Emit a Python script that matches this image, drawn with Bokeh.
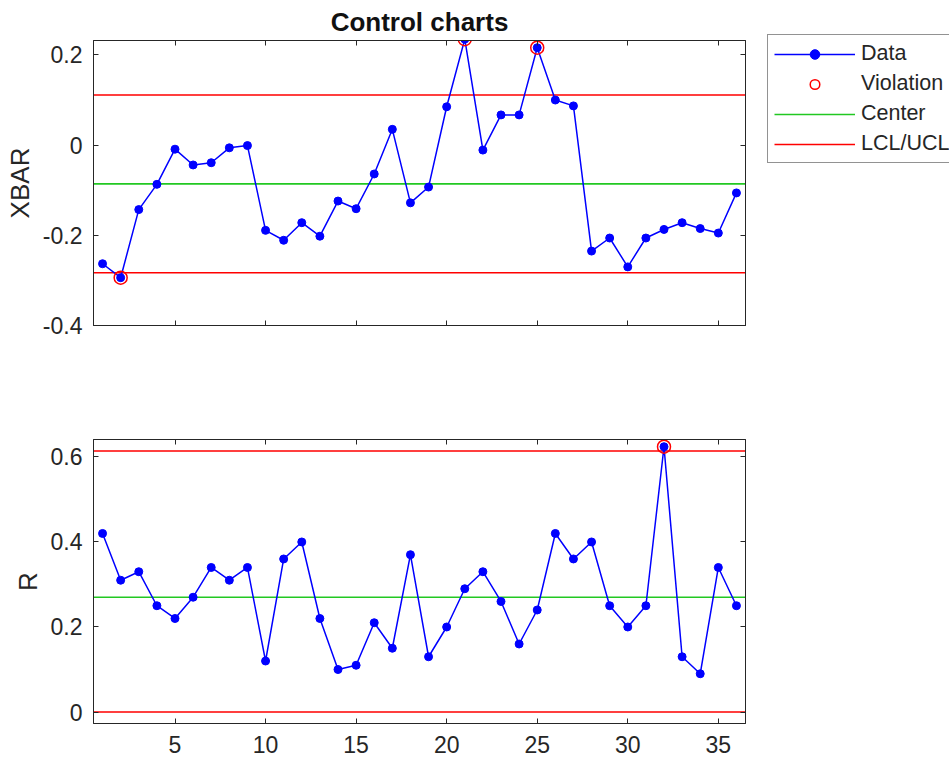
from bokeh.plotting import figure
from bokeh.models import Range1d, LinearAxis, FixedTicker, Legend, LegendItem
from bokeh.layouts import column, row
from bokeh.embed import file_html
from bokeh.resources import INLINE

# ---- data ----
sample = list(range(1, 37))
xbar = [-0.263, -0.294, -0.143, -0.087, -0.009, -0.044, -0.039, -0.006, -0.001,
        -0.189, -0.211, -0.172, -0.202, -0.124, -0.141, -0.064, 0.035, -0.128,
        -0.093, 0.085, 0.235, -0.011, 0.067, 0.067, 0.216, 0.100, 0.087, -0.235,
        -0.206, -0.270, -0.206, -0.187, -0.172, -0.185, -0.195, -0.106]
r_vals = [0.42, 0.31, 0.33, 0.25, 0.22, 0.27, 0.34, 0.31, 0.34, 0.12, 0.36, 0.40,
          0.22, 0.10, 0.11, 0.21, 0.15, 0.37, 0.13, 0.20, 0.29, 0.33, 0.26, 0.16,
          0.24, 0.42, 0.36, 0.40, 0.25, 0.20, 0.25, 0.624, 0.13, 0.09, 0.34, 0.25]
xbar_center, xbar_lcl, xbar_ucl = -0.086, -0.283, 0.111
r_center, r_lcl, r_ucl = 0.270, 0.0, 0.614

x_lo, x_hi = 0.5, 36.5
x_ticks = [5, 10, 15, 20, 25, 30, 35]
x_tick_labels = ["5", "10", "15", "20", "25", "30", "35"]
xbar_ticks = [-0.4, -0.2, 0, 0.2]
xbar_tick_labels = ["-0.4", "-0.2", "0", "0.2"]
r_ticks = [0, 0.2, 0.4, 0.6]
r_tick_labels = ["0", "0.2", "0.4", "0.6"]
legend_labels = ["Data", "Violation", "Center", "LCL/UCL"]

FONT = "Liberation Sans"
TXT = "#262626"
BLUE = "#0000ff"
RED = "#ff0000"
GREEN = "#22c822"
NAN = float("nan")
TICK_FS = "23px"


def style_axis(ax, ticks, labels=None, show=True, standoff=10):
    ax.ticker = FixedTicker(ticks=ticks)
    ax.major_tick_in = 5
    ax.major_tick_out = 0
    ax.minor_tick_in = 0
    ax.minor_tick_out = 0
    ax.axis_line_color = TXT
    ax.major_tick_line_color = TXT
    ax.major_label_text_color = TXT
    ax.major_label_text_font = FONT
    if show:
        ax.major_label_text_font_size = TICK_FS
        ax.major_label_standoff = standoff
        if labels is not None:
            ax.major_label_overrides = {t: l for t, l in zip(ticks, labels)}
    else:
        ax.major_label_text_font_size = "1px"
        ax.major_label_standoff = 0
        ax.major_label_overrides = {t: "" for t in ticks}


def make_chart(values, center, lcl, ucl, yr, yticks, ylabels, ylabel,
               height, mb_top, mb_bottom, show_x, title=None):
    p = figure(width=747, height=height, x_range=Range1d(x_lo, x_hi),
               y_range=Range1d(*yr), output_backend="svg", toolbar_location=None,
               min_border_left=93, min_border_right=2, min_border_top=mb_top,
               min_border_bottom=mb_bottom, title=title)
    p.xgrid.visible = False
    p.ygrid.visible = False
    p.outline_line_color = TXT
    p.background_fill_color = "white"
    p.border_fill_color = "white"

    style_axis(p.xaxis[0], x_ticks, x_tick_labels, show=show_x, standoff=12)
    style_axis(p.yaxis[0], yticks, ylabels, show=True, standoff=11)
    p.yaxis[0].axis_label = ylabel
    p.yaxis[0].axis_label_text_font = FONT
    p.yaxis[0].axis_label_text_font_size = "26px"
    p.yaxis[0].axis_label_text_font_style = "normal"
    p.yaxis[0].axis_label_text_color = TXT
    p.yaxis[0].axis_label_standoff = 5

    top_ax = LinearAxis()
    style_axis(top_ax, x_ticks, show=False)
    p.add_layout(top_ax, "above")
    right_ax = LinearAxis()
    style_axis(right_ax, yticks, show=False)
    p.add_layout(right_ax, "right")

    if title is not None:
        p.title.align = "center"
        p.title.text_font = FONT
        p.title.text_font_size = "26px"
        p.title.text_font_style = "bold"
        p.title.text_color = "#111111"
        p.title.standoff = 8

    p.line([x_lo, x_hi], [center, center], line_color=GREEN, line_width=1.6)
    p.line([x_lo, x_hi, NAN, x_lo, x_hi], [ucl, ucl, NAN, lcl, lcl],
           line_color=RED, line_width=1.6)
    p.line(sample, values, line_color=BLUE, line_width=1.5)
    p.scatter(sample, values, size=8, fill_color=BLUE, line_color=BLUE)
    vx = [s for s, v in zip(sample, values) if v > ucl or v < lcl]
    vy = [v for v in values if v > ucl or v < lcl]
    p.scatter(vx, vy, marker="circle", size=13, fill_color=None,
              line_color=RED, line_width=1.5)
    return p


p1 = make_chart(xbar, xbar_center, xbar_lcl, xbar_ucl, (-0.4, 0.232), xbar_ticks,
                xbar_tick_labels, "XBAR", 345, 39, 20, False, title="Control charts")
p2 = make_chart(r_vals, r_center, r_lcl, r_ucl, (-0.027, 0.641), r_ticks,
                r_tick_labels, "R", 417, 94, 39, True)

# legend panel to the right of the upper chart (its renderers are hidden; only the
# legend entries are shown)
lf = figure(width=202, height=345, output_backend="svg", toolbar_location=None,
            x_axis_location=None, y_axis_location=None, min_border=0,
            x_range=Range1d(x_lo, x_hi), y_range=Range1d(-0.4, 0.232))
lf.grid.visible = False
lf.outline_line_color = None
lf.border_fill_color = "white"
d_line = lf.line(sample, xbar, line_color=BLUE, line_width=1.5, visible=False)
d_dot = lf.scatter(sample, xbar, size=8, fill_color=BLUE, line_color=BLUE, visible=False)
v_dot = lf.scatter(sample, xbar, size=13, fill_color=None, line_color=RED,
                   line_width=1.5, visible=False)
c_line = lf.line(sample, xbar, line_color=GREEN, line_width=1.6, visible=False)
l_line = lf.line(sample, xbar, line_color=RED, line_width=1.6, visible=False)

legend = Legend(items=[LegendItem(label=legend_labels[0], renderers=[d_line, d_dot]),
                       LegendItem(label=legend_labels[1], renderers=[v_dot]),
                       LegendItem(label=legend_labels[2], renderers=[c_line]),
                       LegendItem(label=legend_labels[3], renderers=[l_line])],
                location=(20, 182))
legend.label_text_font = FONT
legend.label_text_font_size = "21.5px"
legend.label_text_color = TXT
legend.glyph_width = 81
legend.glyph_height = 24
legend.label_height = 24
legend.label_standoff = 6
legend.spacing = 5
legend.padding = 6
legend.margin = 0
legend.border_line_color = TXT
legend.border_line_width = 1
legend.background_fill_color = "white"
legend.background_fill_alpha = 1
legend.inactive_fill_alpha = 0
lf.add_layout(legend)

layout = row(column(p1, p2), lf)
open("out.html", "w").write(file_html(layout, INLINE))
